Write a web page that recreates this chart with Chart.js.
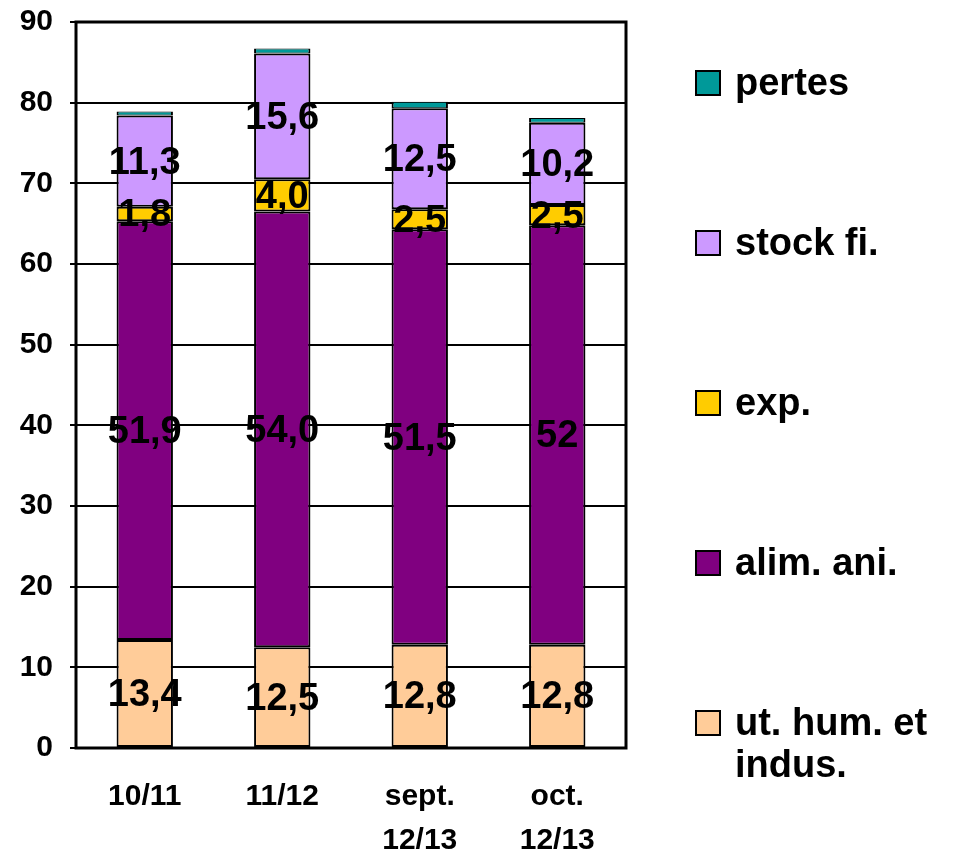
<!DOCTYPE html>
<html>
<head>
<meta charset="utf-8">
<script src="https://cdn.jsdelivr.net/npm/chart.js@4"></script>
<style>
  html, body { margin: 0; padding: 0; background: #fff; }
  #wrap { width: 957px; height: 855px; }
</style>
</head>
<body>
<div id="wrap"><canvas id="bilanChart"></canvas></div>
<script>
const periods = [['10/11'], ['11/12'], ['sept.', '12/13'], ['oct.', '12/13']];

const utHum = [13.4, 12.5, 12.8, 12.8];
const alimAni = [51.9, 54.0, 51.5, 52];
const exportations = [1.8, 4.0, 2.5, 2.5];
const stockFi = [11.3, 15.6, 12.5, 10.2];
const pertes = [0.5, 0.6, 0.8, 0.6];

// texts shown inside the bars (as printed on the original)
const utHumText = ['13,4', '12,5', '12,8', '12,8'];
const alimAniText = ['51,9', '54,0', '51,5', '52'];
const expText = ['1,8', '4,0', '2,5', '2,5'];
const stockFiText = ['11,3', '15,6', '12,5', '10,2'];

const yTicks = [0, 10, 20, 30, 40, 50, 60, 70, 80, 90];

const FONT = '"Liberation Sans", Arial, sans-serif';

function serie(label, data, color, texts, legendLines, border) {
  return {
    label: label,
    data: data,
    backgroundColor: color,
    borderColor: '#000',
    borderWidth: border || 2,
    borderSkipped: false,
    texts: texts,
    legendLines: legendLines
  };
}

// black frame around the plot area
const framePlugin = {
  id: 'frame',
  afterDraw(chart) {
    const a = chart.chartArea;
    const ctx = chart.ctx;
    ctx.save();
    ctx.strokeStyle = '#000';
    ctx.lineWidth = 3;
    ctx.strokeRect(a.left, a.top, a.right - a.left, a.bottom - a.top);
    ctx.restore();
  }
};

// values written in the middle of each segment
const segmentLabels = {
  id: 'segmentLabels',
  afterDatasetsDraw(chart) {
    const ctx = chart.ctx;
    ctx.save();
    ctx.font = 'bold 38px ' + FONT;
    ctx.fillStyle = '#000';
    ctx.textAlign = 'center';
    ctx.textBaseline = 'middle';
    chart.data.datasets.forEach((ds, i) => {
      if (!ds.texts) return;
      chart.getDatasetMeta(i).data.forEach((bar, j) => {
        ctx.fillText(ds.texts[j], bar.x, (bar.y + bar.base) / 2 + 2);
      });
    });
    ctx.restore();
  }
};

// legend on the right, top item = top of the stack
const sideLegend = {
  id: 'sideLegend',
  afterDraw(chart) {
    const ctx = chart.ctx;
    const items = chart.data.datasets.slice().reverse();
    ctx.save();
    ctx.font = 'bold 38px ' + FONT;
    ctx.textBaseline = 'middle';
    ctx.textAlign = 'left';
    items.forEach((ds, k) => {
      const cy = 83 + k * 160;
      ctx.fillStyle = ds.backgroundColor;
      ctx.fillRect(696, cy - 12, 24, 24);
      ctx.strokeStyle = '#000';
      ctx.lineWidth = 2;
      ctx.strokeRect(696, cy - 12, 24, 24);
      ctx.fillStyle = '#000';
      ds.legendLines.forEach((line, n) => {
        ctx.fillText(line, 735, cy + 2 + n * 42);
      });
    });
    ctx.restore();
  }
};

new Chart(document.getElementById('bilanChart'), {
  type: 'bar',
  data: {
    labels: periods,
    datasets: [
      serie('ut. hum. et indus.', utHum, '#FFCC99', utHumText, ['ut. hum. et', 'indus.']),
      serie('alim. ani.', alimAni, '#800080', alimAniText, ['alim. ani.']),
      serie('exp.', exportations, '#FFCC00', expText, ['exp.']),
      serie('stock fi.', stockFi, '#CC99FF', stockFiText, ['stock fi.']),
      serie('pertes', pertes, '#009999', null, ['pertes'], { top: 1, bottom: 1, left: 2, right: 2 })
    ]
  },
  options: {
    responsive: true,
    maintainAspectRatio: false,
    animation: false,
    layout: { padding: { top: 22, right: 331, left: 0, bottom: 0 } },
    datasets: {
      bar: { categoryPercentage: 1.0, barPercentage: 0.41 }
    },
    plugins: {
      legend: { display: false },
      tooltip: { enabled: false }
    },
    scales: {
      x: {
        stacked: true,
        grid: { display: false },
        border: { display: false },
        ticks: {
          color: '#000',
          padding: 19,
          maxRotation: 0,
          autoSkip: false,
          font: { family: FONT, size: 30, weight: 'bold', lineHeight: 1.45 }
        },
        afterFit(scale) { scale.height = 107; }
      },
      y: {
        stacked: true,
        min: 0,
        max: 90,
        afterBuildTicks(scale) {
          scale.ticks = yTicks.map(v => ({ value: v }));
        },
        grid: { color: '#000', lineWidth: 2, tickLength: 6 },
        border: { display: false },
        ticks: {
          color: '#000',
          padding: 17,
          font: { family: FONT, size: 30, weight: 'bold' }
        },
        afterFit(scale) {
          scale.width = 76;
          scale.paddingTop = 0;
          scale.paddingBottom = 0;
        }
      }
    }
  },
  plugins: [framePlugin, segmentLabels, sideLegend]
});
</script>
</body>
</html>
